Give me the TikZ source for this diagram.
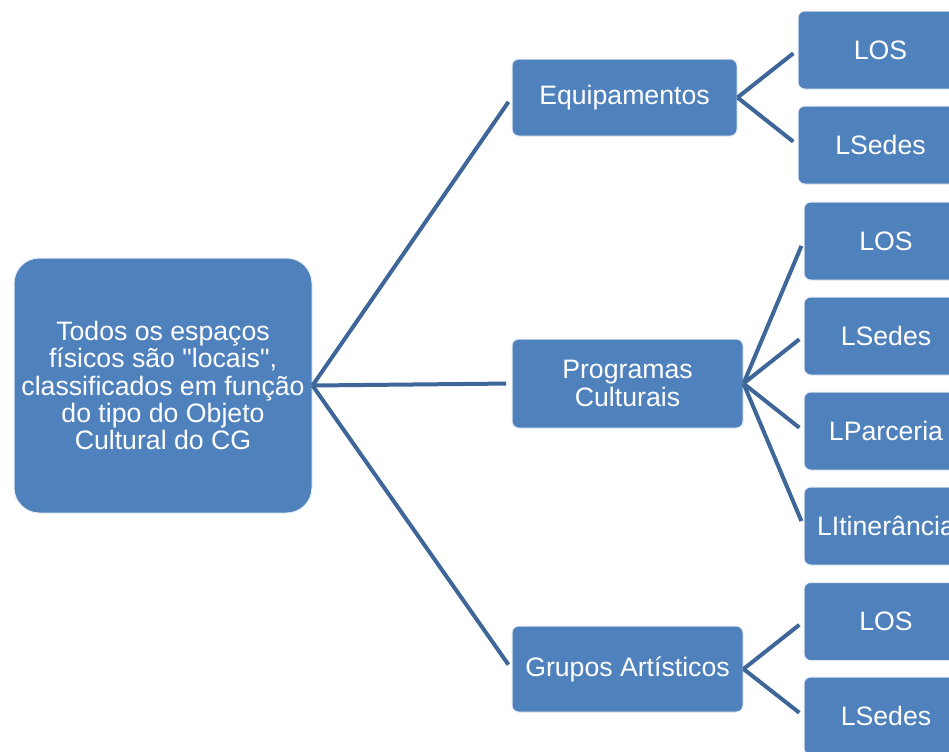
\documentclass[tikz,border=0pt]{standalone}
\usepackage{fontspec}
\setmainfont{Liberation Sans}[Ligatures=TeXOff]
\usepackage{tikz}

\definecolor{boxblue}{RGB}{79,129,189}
\definecolor{lineblue}{RGB}{62,102,152}

\tikzset{
  box/.style 2 args={draw=white!85!boxblue, line width=0.75pt, fill=boxblue,
    text=white, align=center, inner sep=0pt, rounded corners=5pt,
    minimum width=#1*0.75pt, minimum height=#2*0.75pt,
    font=\fontsize{20}{20.6}\selectfont},
  conn/.style={lineblue, line width=3pt, shorten >=4pt}
}

\begin{document}
\begin{tikzpicture}[x=0.75pt, y=-0.75pt]
  \useasboundingbox (0,0) rectangle (949,751);
  \clip (0,0) rectangle (949,751);

  % Wurzel
  \node[box={298}{255}, rounded corners=19pt] (root) at (163,385.5)
    {Todos os espaços\\físicos são "locais",\\classificados em função\\do tipo do Objeto\\Cultural do CG};

  % zweite Ebene
  \node[box={225}{77}] (equip) at (624.5,97.5) {Equipamentos};
  \node[box={231}{89}] (prog)  at (627.5,383.5) {Programas\\Culturais};
  \node[box={231}{86}] (grupo) at (627.5,669) {Grupos Artísticos};

  % dritte Ebene
  \node[box={165}{78}] (eqLOS)   at (880.5,50)  {LOS};
  \node[box={165}{78}] (eqSedes) at (880.5,145) {LSedes};

  \node[box={164}{78}] (prLOS)   at (886,241) {LOS};
  \node[box={164}{78}] (prSedes) at (886,336) {LSedes};
  \node[box={164}{78}] (prParc)  at (886,431) {LParceria};
  \node[box={164}{78}] (prItin)  at (886,526) {LItinerância};

  \node[box={164}{78}] (grLOS)   at (886,621.5) {LOS};
  \node[box={164}{78}] (grSedes) at (886,716)   {LSedes};

  % Verbindungen
  \foreach \t in {equip,prog,grupo}
    \draw[conn] (root.east) -- (\t.west);
  \foreach \t in {eqLOS,eqSedes}
    \draw[conn] (equip.east) -- (\t.west);
  \foreach \t in {prLOS,prSedes,prParc,prItin}
    \draw[conn] (prog.east) -- (\t.west);
  \foreach \t in {grLOS,grSedes}
    \draw[conn] (grupo.east) -- (\t.west);

\end{tikzpicture}
\end{document}
